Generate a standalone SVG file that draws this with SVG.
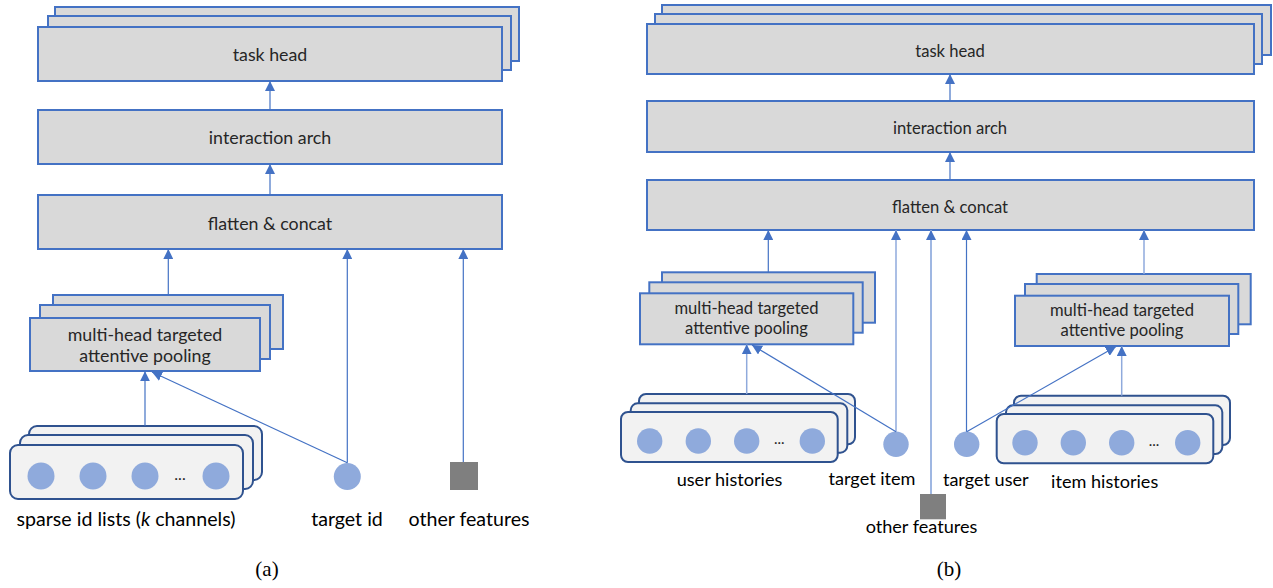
<svg xmlns="http://www.w3.org/2000/svg" width="1273" height="588" viewBox="0 0 1273 588">
<style>
.box{fill:#d9d9d9;stroke:#4472c4;stroke-width:2}
.lst{fill:#f2f2f2;stroke:#2f528f;stroke-width:2}
.dot{fill:#8faadc}
.sq{fill:#7f7f7f}
.t{font-family:Lato,Carlito,"Liberation Sans",sans-serif;fill:#262626;text-anchor:middle}
.ta{font-size:17.8px}
.tb{font-size:16.6px}
.la{font-size:19.6px;fill:#000}
.lb{font-size:18.1px;fill:#000}
.cap{font-family:"Liberation Serif",serif;font-size:21px;fill:#000;text-anchor:middle}
.c{stroke:#4472c4;stroke-width:1.2;fill:none;marker-end:url(#ah)}
.cl{stroke:#8faadc;stroke-width:1.5;fill:none;marker-end:url(#ah)}
.cw{stroke:#9fb7e2;stroke-width:2;fill:none;marker-end:url(#ah)}
</style>
<defs>
<marker id="ah" viewBox="0 0 10 10" refX="10" refY="5" markerWidth="10" markerHeight="10" markerUnits="userSpaceOnUse" orient="auto">
<path d="M0,0 L10,5 L0,10 z" fill="#4472c4"/>
</marker>
</defs>

<!-- Panel (a) -->
<g id="a-taskhead">
<rect class="box" x="55" y="7" width="464" height="54"/>
<rect class="box" x="48" y="16" width="463" height="54"/>
<rect class="box" x="38" y="27" width="464" height="54"/>
<text class="t ta" x="270" y="61">task head</text>
</g>
<g id="a-interaction">
<rect class="box" x="38" y="110" width="464" height="54"/>
<text class="t ta" x="270" y="144">interaction arch</text>
</g>
<g id="a-flatten">
<rect class="box" x="38" y="195" width="464" height="54"/>
<text class="t ta" x="270" y="230">flatten &amp; concat</text>
</g>
<g id="a-pooling">
<rect class="box" x="53" y="295" width="230" height="54"/>
<rect class="box" x="40" y="305" width="230" height="54"/>
<rect class="box" x="30" y="318" width="230" height="53"/>
<text class="t ta" x="145" y="341">multi-head targeted</text>
<text class="t ta" x="145" y="362">attentive pooling</text>
</g>
<g id="a-sparse">
<rect class="lst" x="29" y="426" width="233" height="54" rx="8"/>
<rect class="lst" x="20" y="435" width="233" height="54" rx="8"/>
<rect class="lst" x="10" y="445" width="233" height="54" rx="8"/>
<circle class="dot" cx="41" cy="476" r="13.5"/>
<circle class="dot" cx="93" cy="476" r="13.5"/>
<circle class="dot" cx="145" cy="476" r="13.5"/>
<text class="t" x="180" y="480" font-size="16">...</text>
<circle class="dot" cx="216" cy="476" r="13.5"/>
<text class="t la" x="126" y="526">sparse id lists (<tspan font-style="italic">k</tspan> channels)</text>
</g>
<g id="a-targetid">
<circle class="dot" cx="347.3" cy="476.5" r="13.5"/>
<text class="t la" x="347" y="526">target id</text>
</g>
<g id="a-other">
<rect class="sq" x="450" y="462" width="28" height="28"/>
<text class="t la" x="469" y="526">other features</text>
</g>
<text class="cap" x="267" y="576">(a)</text>

<!-- Panel (b) -->
<g id="b-taskhead">
<rect class="box" x="662" y="5" width="609" height="50"/>
<rect class="box" x="655" y="14" width="607" height="50"/>
<rect class="box" x="647" y="24" width="607" height="50"/>
<text class="t tb" x="950" y="56.5">task head</text>
</g>
<g id="b-interaction">
<rect class="box" x="647" y="101" width="607" height="51"/>
<text class="t tb" x="950" y="134">interaction arch</text>
</g>
<g id="b-flatten">
<rect class="box" x="647" y="180" width="607" height="50"/>
<text class="t tb" x="950" y="213">flatten &amp; concat</text>
</g>
<g id="b-pooling-user">
<rect class="box" x="662" y="272.3" width="213" height="50.4"/>
<rect class="box" x="649.3" y="282.3" width="213.4" height="50.4"/>
<rect class="box" x="640" y="293.3" width="213.3" height="51"/>
<text class="t tb" x="746.5" y="314.3">multi-head targeted</text>
<text class="t tb" x="746.5" y="334">attentive pooling</text>
</g>
<g id="b-pooling-item">
<rect class="box" x="1036.7" y="274" width="214" height="50.3"/>
<rect class="box" x="1025" y="284" width="213.3" height="50"/>
<rect class="box" x="1015" y="295.7" width="214" height="50.3"/>
<text class="t tb" x="1122" y="315.7">multi-head targeted</text>
<text class="t tb" x="1122" y="335.7">attentive pooling</text>
</g>
<g id="b-userhist">
<rect class="lst" x="639" y="394" width="216" height="50.3" rx="7"/>
<rect class="lst" x="630.7" y="403.3" width="216.6" height="49.4" rx="7"/>
<rect class="lst" x="621" y="412" width="216.7" height="50" rx="7"/>
<circle class="dot" cx="649.7" cy="441" r="12.7"/>
<circle class="dot" cx="698.3" cy="441" r="12.7"/>
<circle class="dot" cx="746.7" cy="441" r="12.7"/>
<text class="t" x="779.3" y="444" font-size="15">...</text>
<circle class="dot" cx="812.3" cy="441" r="12.7"/>
<text class="t lb" x="729.5" y="486">user histories</text>
</g>
<g id="b-targetitem">
<circle class="dot" cx="896" cy="444.3" r="12.7"/>
<text class="t lb" x="872" y="485">target item</text>
</g>
<g id="b-targetuser">
<circle class="dot" cx="966.7" cy="444.3" r="12.7"/>
<text class="t lb" x="985.8" y="486">target user</text>
</g>
<g id="b-itemhist">
<rect class="lst" x="1014" y="395.7" width="216" height="49.3" rx="7"/>
<rect class="lst" x="1006" y="405.3" width="216.3" height="48.7" rx="7"/>
<rect class="lst" x="996.7" y="414" width="216.6" height="49.3" rx="7"/>
<circle class="dot" cx="1025" cy="442.7" r="12.7"/>
<circle class="dot" cx="1073.3" cy="442.7" r="12.7"/>
<circle class="dot" cx="1121.7" cy="442.7" r="12.7"/>
<text class="t" x="1154" y="446" font-size="15">...</text>
<circle class="dot" cx="1187.7" cy="442.7" r="12.7"/>
<text class="t lb" x="1104.7" y="488.3">item histories</text>
</g>
<g id="b-other">
<rect class="sq" x="920" y="494" width="26" height="25.3"/>
<text class="t lb" x="921.5" y="533.3">other features</text>
</g>
<text class="cap" x="949" y="576">(b)</text>

<g id="connectors">
<line class="c" x1="270" y1="110" x2="270" y2="81"/>
<line class="c" x1="270" y1="195" x2="270" y2="164"/>
<line class="c" x1="168.3" y1="294.7" x2="168.3" y2="249"/>
<line class="c" x1="347.3" y1="462.7" x2="347.3" y2="249"/>
<line class="c" x1="463.3" y1="462" x2="463.3" y2="249"/>
<line class="c" x1="145" y1="425.7" x2="145" y2="371.3"/>
<line class="c" x1="347.3" y1="462.7" x2="152" y2="372"/>

<line class="c" x1="950" y1="101" x2="950" y2="74"/>
<line class="c" x1="950" y1="180" x2="950" y2="152"/>
<line class="c" x1="768.3" y1="272.3" x2="768.3" y2="230"/>
<line class="cl" x1="896" y1="431.7" x2="896" y2="230"/>
<line class="cw" x1="931" y1="494" x2="931" y2="230"/>
<line class="c" x1="966.5" y1="431.7" x2="966.5" y2="230"/>
<line class="cl" x1="1144" y1="274" x2="1144" y2="230"/>
<line class="cl" x1="746.7" y1="394" x2="746.7" y2="344.3"/>
<line class="c" x1="896" y1="431.7" x2="752" y2="345"/>
<line class="cl" x1="1121.7" y1="395.7" x2="1121.7" y2="346"/>
<line class="c" x1="966.7" y1="431.7" x2="1116" y2="346.5"/>
</g>
</svg>
